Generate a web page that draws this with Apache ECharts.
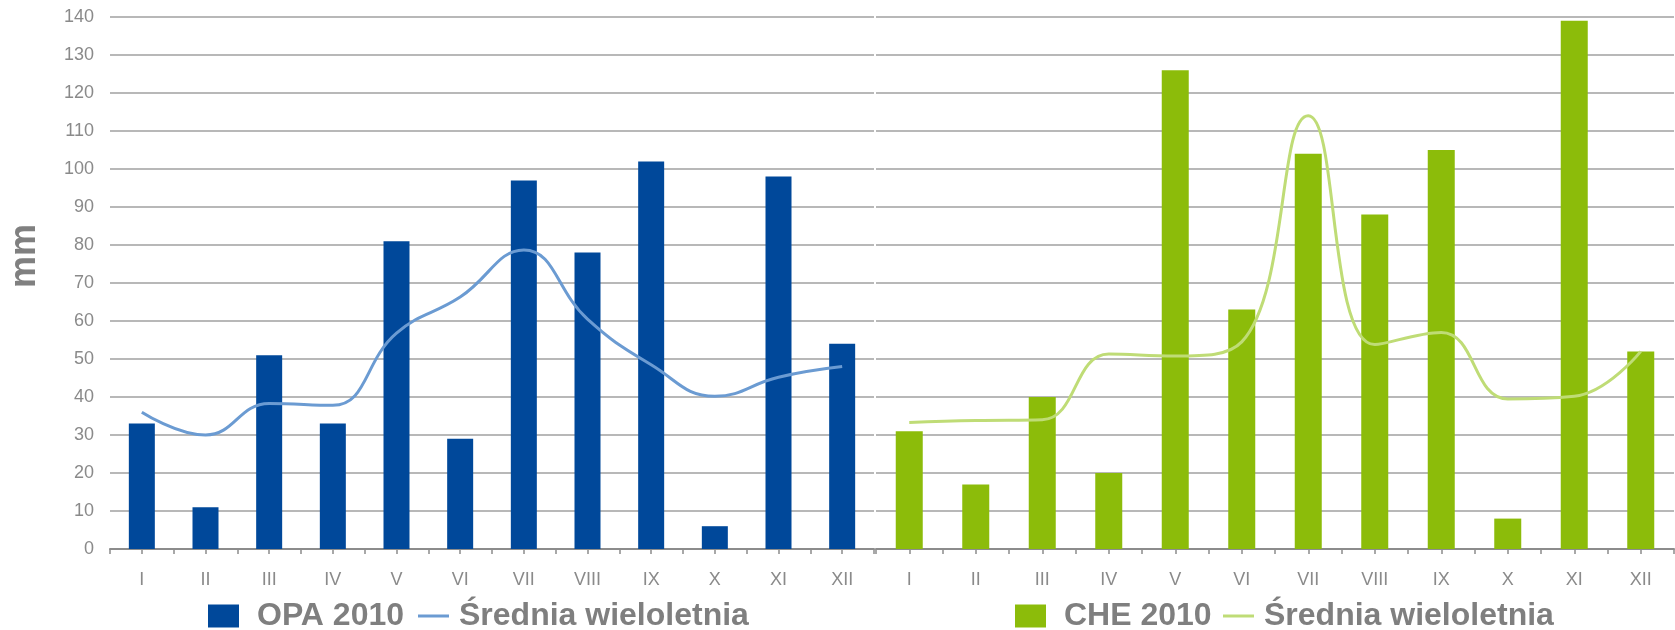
<!DOCTYPE html>
<html>
<head>
<meta charset="utf-8">
<script src="https://cdn.jsdelivr.net/npm/echarts@6/dist/echarts.min.js"></script>
<style>
  html, body { margin: 0; padding: 0; background: #fff; }
  #chart { width: 1675px; height: 630px; }
</style>
</head>
<body>
<div id="chart"></div>
<script>
// months (roman numerals) and the y ticks
var months = ["I", "II", "III", "IV", "V", "VI", "VII", "VIII", "IX", "X", "XI", "XII"];
var yMin = 0, yMax = 140, yStep = 10;

// OPA
var opa2010 = [33, 11, 51, 33, 81, 29, 97, 78, 102, 6, 98, 54];
var opaMean = [36, 30, 38.3, 37.8, 56.8, 66.3, 78.7, 60.5, 48.5, 40.2, 45.2, 48];

// CHE
var che2010 = [31, 17, 40, 20, 126, 63, 104, 88, 105, 8, 139, 52];
var cheMean = [33.3, 33.8, 34, 51.3, 50.8, 54.5, 114, 53.8, 57, 39.5, 40.2, 52];

var grey = "#8a8a8a";
var gridLine = { show: true, lineStyle: { color: "#a0a0a0", width: 1.5 } };

function catAxis(idx) {
  return {
    type: "category",
    gridIndex: idx,
    data: months,
    axisLine: { lineStyle: { color: "#8c8c8c", width: 2 } },
    axisTick: { show: true, length: 5, lineStyle: { color: "#8c8c8c", width: 1.5 } },
    axisLabel: { color: grey, fontSize: 18, fontFamily: "Liberation Sans, Arial", margin: 22 }
  };
}
// second axis only to draw the small ticks under each bar
function midTicks(idx) {
  return {
    type: "category",
    gridIndex: idx,
    data: months,
    position: "bottom",
    axisLine: { show: false },
    axisTick: { show: true, alignWithLabel: true, length: 5, lineStyle: { color: "#8c8c8c", width: 1.5 } },
    axisLabel: { show: false }
  };
}

function legendItem(name, left, isLine) {
  return {
    data: [{ name: name, icon: "rect" }],
    left: left,
    top: 595,
    itemWidth: 31,
    itemHeight: isLine ? 3 : 23,
    itemGap: 0,
    textStyle: {
      color: "#7f7f7f",
      fontSize: 32,
      fontWeight: "bold",
      fontFamily: "Liberation Sans, Arial",
      padding: [0, 0, 0, isLine ? 5 : 13]
    }
  };
}

var chart = echarts.init(document.getElementById("chart"));
chart.setOption({
  animation: false,
  backgroundColor: "#fff",
  grid: [
    { left: 110, right: 801, top: 17, bottom: 81 },
    { left: 876, right: 1, top: 17, bottom: 81 }
  ],
  xAxis: [catAxis(0), catAxis(1), midTicks(0), midTicks(1)],
  yAxis: [
    {
      type: "value", gridIndex: 0, min: yMin, max: yMax, interval: yStep,
      axisLine: { show: false }, axisTick: { show: false },
      axisLabel: { color: grey, fontSize: 18, fontFamily: "Liberation Sans, Arial", margin: 16 },
      splitLine: gridLine
    },
    {
      type: "value", gridIndex: 1, min: yMin, max: yMax, interval: yStep,
      axisLine: { show: false }, axisTick: { show: false },
      axisLabel: { show: false },
      splitLine: gridLine
    }
  ],
  legend: [
    legendItem("OPA 2010", 203, false),
    legendItem("Średnia wieloletnia ", 413, true),
    legendItem("CHE 2010", 1010, false),
    legendItem("Średnia wieloletnia", 1218, true)
  ],
  graphic: [
    {
      type: "text",
      x: 25, y: 256,
      rotation: Math.PI / 2,
      style: {
        text: "mm",
        fill: "#808080",
        fontSize: 36,
        fontWeight: "bold",
        fontFamily: "Liberation Sans, Arial",
        align: "center",
        verticalAlign: "middle"
      }
    }
  ],
  series: [
    {
      name: "OPA 2010", type: "bar", xAxisIndex: 0, yAxisIndex: 0,
      barWidth: 26, itemStyle: { color: "#00489a" }, data: opa2010
    },
    {
      name: "Średnia wieloletnia ", type: "line", xAxisIndex: 0, yAxisIndex: 0,
      smooth: 0.45, symbol: "none", z: 3,
      itemStyle: { color: "#6b9bd2" },
      lineStyle: { color: "#6b9bd2", width: 3 }, data: opaMean
    },
    {
      name: "CHE 2010", type: "bar", xAxisIndex: 1, yAxisIndex: 1,
      barWidth: 27, itemStyle: { color: "#8cbc0a" }, data: che2010
    },
    {
      name: "Średnia wieloletnia", type: "line", xAxisIndex: 1, yAxisIndex: 1,
      smooth: 0.45, symbol: "none", z: 3,
      itemStyle: { color: "#bfdc76" },
      lineStyle: { color: "#bfdc76", width: 3 }, data: cheMean
    }
  ]
});
window.addEventListener("resize", function () { chart.resize(); });
</script>
</body>
</html>
